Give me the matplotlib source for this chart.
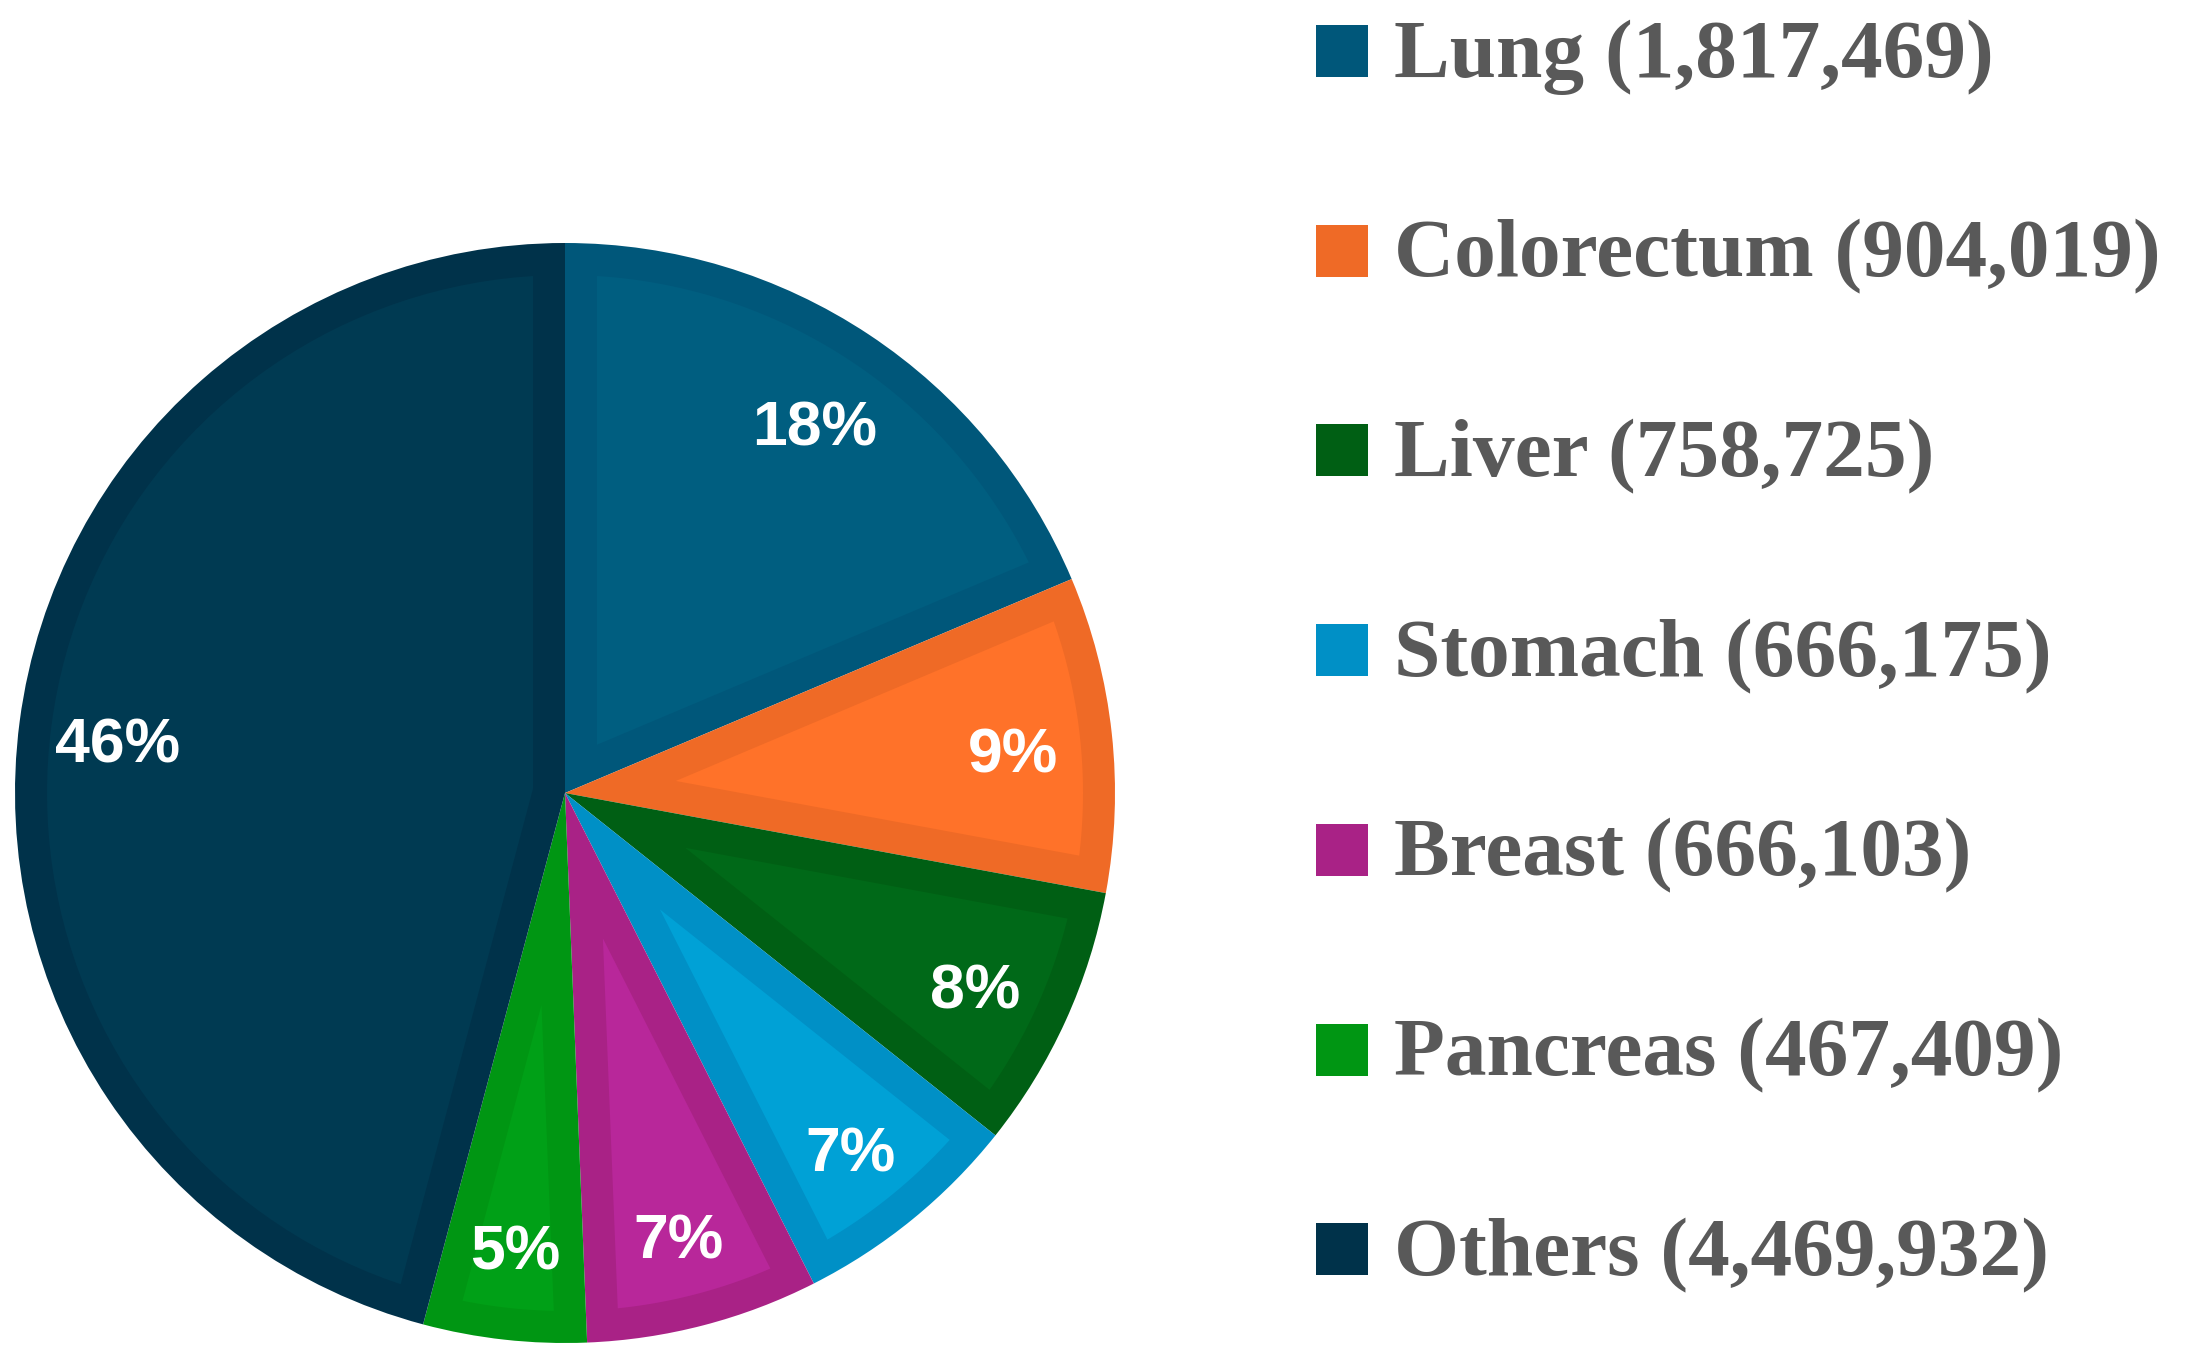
import numpy as np
import matplotlib
matplotlib.use("Agg")
import matplotlib.pyplot as plt
from matplotlib.patches import Polygon, Rectangle

W, H = 2193, 1359   # output size in px

sites = ["Lung", "Colorectum", "Liver", "Stomach", "Breast", "Pancreas", "Others"]
deaths = [1817469, 904019, 758725, 666175, 666103, 467409, 4469932]
pct_labels = ["18%", "9%", "8%", "7%", "7%", "5%", "46%"]

edge_cols = ["#00577a", "#ef6a26", "#005f14", "#0090c6", "#a92286", "#009613", "#00324a"]
fill_cols = ["#005e80", "#ff7229", "#006918", "#00a1d6", "#b8279a", "#00a017", "#003a52"]

band = 32 / 550.  # width of the darker rim, in pie radii


def inset_wedge(t1, t2, r=1.0, d=band, n=80):
    # shape of a wedge pulled in by d from all its sides
    t1, t2 = np.radians(t1), np.radians(t2)
    half = (t2 - t1) / 2
    mid = t1 + half
    s = d / np.sin(half)
    apex = (s * np.cos(mid), s * np.sin(mid))
    delta = np.arcsin(d / (r - d))
    th = np.linspace(t1 + delta, t2 - delta, n)
    pts = [apex] + [((r - d) * np.cos(t), (r - d) * np.sin(t)) for t in th]
    return np.array(pts)


fig = plt.figure(figsize=(W / 100, H / 100), dpi=100)

# pie centre at (565, 793) px, radius 550 px
ax = fig.add_axes([15 / W, 16 / H, 1100 / W, 1100 / H])
wedges, _ = ax.pie(deaths, colors=edge_cols, startangle=90, counterclock=False,
                   radius=1, wedgeprops=dict(linewidth=0))
for w, c in zip(wedges, fill_cols):
    ax.add_patch(Polygon(inset_wedge(w.theta1, w.theta2), closed=True,
                         facecolor=c, edgecolor="none", zorder=2))

for w, lab in zip(wedges, pct_labels):
    a = np.radians((w.theta1 + w.theta2) / 2)
    ax.text(0.82 * np.cos(a), 0.82 * np.sin(a) - 0.022, lab, ha="center",
            va="center", color="white", fontsize=45, fontweight="bold",
            family="Liberation Sans", zorder=5)
ax.set_xlim(-1, 1)
ax.set_ylim(-1, 1)
ax.set_aspect("equal")
ax.axis("off")

# legend on the right
step = 199.7
for i, (name, n, c) in enumerate(zip(sites, deaths, edge_cols)):
    top = 25 + i * step
    fig.add_artist(Rectangle((1316 / W, 1 - (top + 52) / H), 52 / W, 52 / H,
                             transform=fig.transFigure, facecolor=c,
                             edgecolor="none"))
    fig.text(1394 / W, 1 - (77 + i * step) / H, "{} ({:,})".format(name, n),
             ha="left", va="baseline", fontsize=60, color="#595959",
             family="Liberation Serif", fontweight="bold")

fig.savefig("out.png", dpi=100, facecolor="white")
